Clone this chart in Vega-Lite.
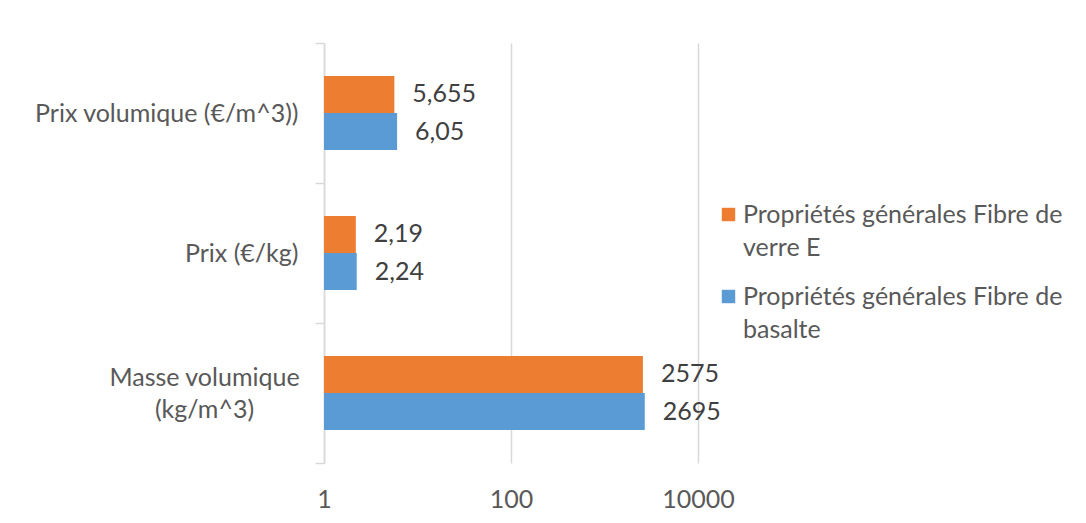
{
  "$schema": "https://vega.github.io/schema/vega-lite/v6.json",
  "width": 374,
  "height": 420,
  "autosize": {"type": "none"},
  "padding": {"left": 324, "top": 43, "right": 388, "bottom": 60},
  "background": "white",
  "config": {
    "font": "Lato",
    "view": {"stroke": null}
  },
  "data": {
    "values": [
      {"cat": "Prix volumique (€/m^3))", "serie": "Propriétés générales Fibre de verre E", "v": 5.655, "lab": "5,655"},
      {"cat": "Prix volumique (€/m^3))", "serie": "Propriétés générales Fibre de basalte", "v": 6.05, "lab": "6,05"},
      {"cat": "Prix (€/kg)", "serie": "Propriétés générales Fibre de verre E", "v": 2.19, "lab": "2,19"},
      {"cat": "Prix (€/kg)", "serie": "Propriétés générales Fibre de basalte", "v": 2.24, "lab": "2,24"},
      {"cat": "Masse volumique (kg/m^3)", "serie": "Propriétés générales Fibre de verre E", "v": 2575, "lab": "2575"},
      {"cat": "Masse volumique (kg/m^3)", "serie": "Propriétés générales Fibre de basalte", "v": 2695, "lab": "2695"}
    ]
  },
  "encoding": {
    "y": {
      "field": "cat",
      "type": "nominal",
      "sort": ["Prix volumique (€/m^3))", "Prix (€/kg)", "Masse volumique (kg/m^3)"],
      "scale": {"paddingInner": 0, "paddingOuter": 0},
      "axis": {
        "title": null,
        "tickBand": "extent",
        "domainColor": "#d9d9d9",
        "domainWidth": 1.5,
        "tickColor": "#d9d9d9",
        "tickWidth": 1.5,
        "tickSize": 9,
        "labelPadding": {"condition": {"test": "datum.label == 'Masse volumique (kg/m^3)'", "value": 111}, "value": 17},
        "labelAlign": {"condition": {"test": "datum.label == 'Masse volumique (kg/m^3)'", "value": "center"}, "value": "right"},
        "labelOffset": {"condition": {"test": "datum.label == 'Masse volumique (kg/m^3)'", "value": -16}, "value": 0},
        "labelFontSize": 25,
        "labelColor": "#595959",
        "labelLimit": 400,
        "labelLineHeight": 32,
        "labelExpr": "datum.label == 'Masse volumique (kg/m^3)' ? ['Masse volumique', '(kg/m^3)'] : datum.label",
        "grid": false
      }
    },
    "yOffset": {
      "field": "serie",
      "type": "nominal",
      "sort": ["Propriétés générales Fibre de verre E", "Propriétés générales Fibre de basalte"],
      "scale": {"paddingInner": 0, "paddingOuter": 0.89}
    },
    "x": {
      "field": "v",
      "type": "quantitative",
      "scale": {"type": "log", "domain": [1, 10000], "nice": false},
      "axis": {
        "title": null,
        "values": [1, 100, 10000],
        "format": "d",
        "domain": false,
        "ticks": false,
        "grid": true,
        "gridColor": "#d9d9d9",
        "gridWidth": 1.5,
        "labelPadding": 24,
        "labelFontSize": 25,
        "labelColor": "#595959",
        "labelFlush": false
      }
    }
  },
  "layer": [
    {
      "mark": {"type": "bar"},
      "encoding": {
        "x2": {"datum": 1},
        "color": {
          "field": "serie",
          "type": "nominal",
          "sort": ["Propriétés générales Fibre de verre E", "Propriétés générales Fibre de basalte"],
          "scale": {"domain": ["Propriétés générales Fibre de verre E", "Propriétés générales Fibre de basalte"], "range": ["#ED7D31", "#5B9BD5"]},
          "legend": {
            "title": null,
            "orient": "none",
            "legendX": 392,
            "legendY": 159,
            "padding": 0,
            "symbolType": "square",
            "symbolSize": 180,
            "symbolStrokeWidth": 0,
            "labelFontSize": 25,
            "labelColor": "#595959",
            "labelLimit": 500,
            "labelOffset": 2,
            "rowPadding": 23,
            "labelExpr": "datum.label == 'Propriétés générales Fibre de verre E' ? ['Propriétés générales Fibre de', 'verre E'] : ['Propriétés générales Fibre de', 'basalte']",
            "encode": {"labels": {"update": {"lineHeight": {"value": 33}}}}
          }
        }
      }
    },
    {
      "mark": {"type": "text", "align": "left", "baseline": "middle", "dx": 18, "fontSize": 25, "color": "#404040"},
      "encoding": {
        "text": {"field": "lab"}
      }
    }
  ]
}
